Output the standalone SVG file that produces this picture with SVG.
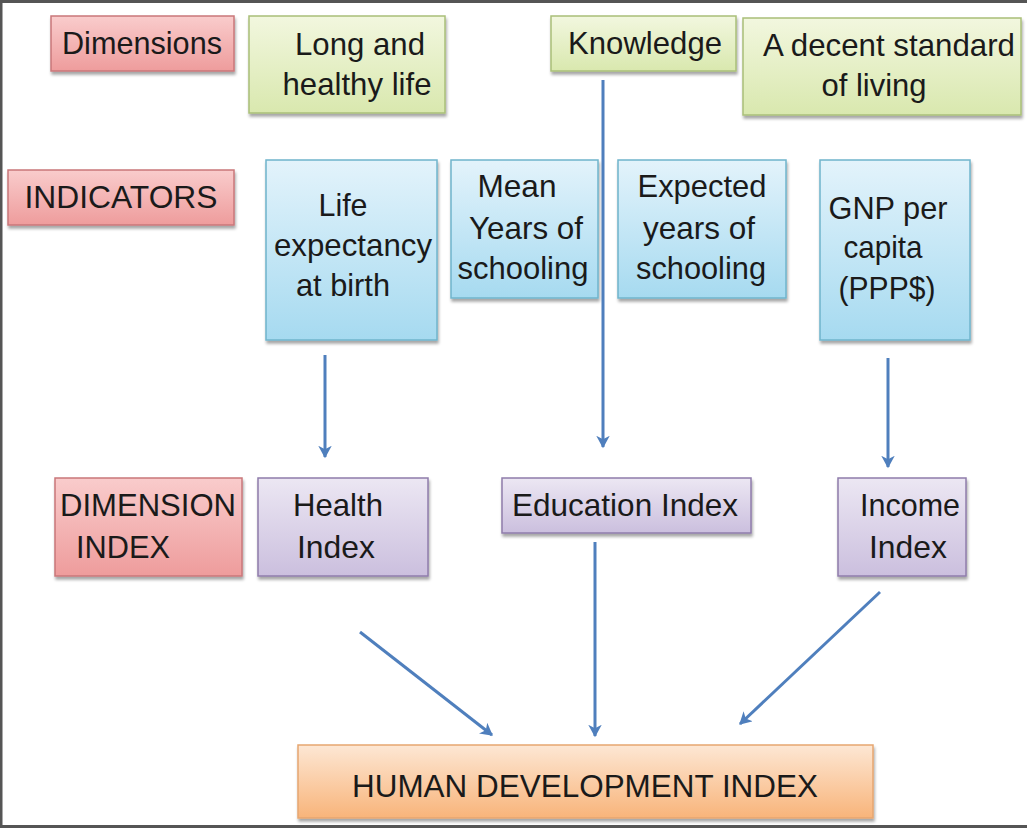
<svg xmlns="http://www.w3.org/2000/svg" width="1027" height="828" viewBox="0 0 1027 828">
<style>
text{font-family:"Liberation Sans",Arial,sans-serif;font-size:32px;fill:#1a1a1a;text-anchor:middle}
.pink{fill:url(#gPink);stroke:#c9777a;stroke-width:1.5}
.green{fill:url(#gGreen);stroke:#a9bf78;stroke-width:1.5}
.blue{fill:url(#gBlue);stroke:#6fb4cc;stroke-width:1.5}
.purple{fill:url(#gPurple);stroke:#8f7cab;stroke-width:1.5}
.orange{fill:url(#gOrange);stroke:#e6a670;stroke-width:1.5}
.box{filter:url(#sh)}
.conn{stroke:#4f7fbd;stroke-width:3;fill:none;marker-end:url(#arr)}
</style>
<defs>
<linearGradient id="gPink" x1="0" y1="0" x2="0" y2="1"><stop offset="0" stop-color="#f9cccc"/><stop offset="1" stop-color="#ee9c9c"/></linearGradient>
<linearGradient id="gGreen" x1="0" y1="0" x2="0" y2="1"><stop offset="0" stop-color="#f2f7df"/><stop offset="1" stop-color="#d9e8ae"/></linearGradient>
<linearGradient id="gBlue" x1="0" y1="0" x2="0" y2="1"><stop offset="0" stop-color="#e3f3fb"/><stop offset="1" stop-color="#a6daf0"/></linearGradient>
<linearGradient id="gPurple" x1="0" y1="0" x2="0" y2="1"><stop offset="0" stop-color="#ece7f3"/><stop offset="1" stop-color="#cbbfde"/></linearGradient>
<linearGradient id="gOrange" x1="0" y1="0" x2="0" y2="1"><stop offset="0" stop-color="#fde7d4"/><stop offset="1" stop-color="#f8b47a"/></linearGradient>
<filter id="sh" x="-10%" y="-10%" width="125%" height="130%"><feDropShadow dx="1" dy="3" stdDeviation="1.5" flood-color="#000" flood-opacity="0.35"/></filter>
<marker id="arr" viewBox="0 0 12 12" refX="10" refY="6" markerWidth="4.5" markerHeight="4.5" orient="auto" markerUnits="strokeWidth"><path d="M0,0 L11,6 L0,12 L3,6 Z" fill="#4f7fbd"/></marker>
</defs>
<rect x="0" y="0" width="1027" height="828" fill="#ffffff"/>
<path d="M1,828 V1.5 H1027" fill="none" stroke="#555" stroke-width="3"/>
<line x1="0" y1="826.5" x2="1027" y2="826.5" stroke="#555" stroke-width="3"/>

<g id="connectors">
<line class="conn" x1="603" y1="80" x2="603" y2="447"/>
<line class="conn" x1="325" y1="355" x2="325" y2="457"/>
<line class="conn" x1="888" y1="358" x2="888" y2="467"/>
<line class="conn" x1="360" y1="632" x2="492" y2="735"/>
<line class="conn" x1="595" y1="542" x2="595" y2="736"/>
<line class="conn" x1="880" y1="592" x2="740" y2="724"/>
</g>

<g id="dimensions">
<rect class="box pink" x="51" y="16" width="183" height="55"/>
<text x="142" y="54" textLength="160" lengthAdjust="spacingAndGlyphs">Dimensions</text>
</g>
<g id="long-healthy-life">
<rect class="box green" x="249" y="16" width="196" height="97"/>
<text x="360" y="55" textLength="130" lengthAdjust="spacingAndGlyphs">Long and</text>
<text x="357" y="95" textLength="149" lengthAdjust="spacingAndGlyphs">healthy life</text>
</g>
<g id="knowledge">
<rect class="box green" x="551" y="16" width="185" height="55"/>
<text x="645" y="54" textLength="154" lengthAdjust="spacingAndGlyphs">Knowledge</text>
</g>
<g id="decent-standard">
<rect class="box green" x="743" y="18" width="278" height="97"/>
<text x="889" y="56" textLength="252" lengthAdjust="spacingAndGlyphs">A decent standard</text>
<text x="874" y="96" textLength="105" lengthAdjust="spacingAndGlyphs">of living</text>
</g>

<g id="indicators">
<rect class="box pink" x="8" y="170" width="226" height="55"/>
<text x="121" y="208" textLength="193" lengthAdjust="spacingAndGlyphs">INDICATORS</text>
</g>
<g id="life-expectancy">
<rect class="box blue" x="266" y="160" width="171" height="180"/>
<text x="343" y="216" textLength="49" lengthAdjust="spacingAndGlyphs">Life</text>
<text x="353" y="256" textLength="158" lengthAdjust="spacingAndGlyphs">expectancy</text>
<text x="343" y="296" textLength="94" lengthAdjust="spacingAndGlyphs">at birth</text>
</g>
<g id="mean-years">
<rect class="box blue" x="451" y="160" width="147" height="138"/>
<text x="517" y="197" textLength="79" lengthAdjust="spacingAndGlyphs">Mean</text>
<text x="526" y="239" textLength="114" lengthAdjust="spacingAndGlyphs">Years of</text>
<text x="523" y="279" textLength="131" lengthAdjust="spacingAndGlyphs">schooling</text>
</g>
<g id="expected-years">
<rect class="box blue" x="618" y="160" width="168" height="138"/>
<text x="702" y="197" textLength="129" lengthAdjust="spacingAndGlyphs">Expected</text>
<text x="699" y="239" textLength="112" lengthAdjust="spacingAndGlyphs">years of</text>
<text x="701" y="279" textLength="130" lengthAdjust="spacingAndGlyphs">schooling</text>
</g>
<g id="gnp">
<rect class="box blue" x="820" y="160" width="150" height="180"/>
<text x="888" y="219" textLength="119" lengthAdjust="spacingAndGlyphs">GNP per</text>
<text x="883" y="258" textLength="79" lengthAdjust="spacingAndGlyphs">capita</text>
<text x="887" y="299" textLength="97" lengthAdjust="spacingAndGlyphs">(PPP$)</text>
</g>

<g id="dimension-index">
<rect class="box pink" x="55" y="478" width="187" height="98"/>
<text x="148" y="516" textLength="176" lengthAdjust="spacingAndGlyphs">DIMENSION</text>
<text x="123" y="558" textLength="94" lengthAdjust="spacingAndGlyphs">INDEX</text>
</g>
<g id="health-index">
<rect class="box purple" x="258" y="478" width="170" height="98"/>
<text x="338" y="516" textLength="90" lengthAdjust="spacingAndGlyphs">Health</text>
<text x="336" y="558" textLength="78" lengthAdjust="spacingAndGlyphs">Index</text>
</g>
<g id="education-index">
<rect class="box purple" x="502" y="478" width="249" height="55"/>
<text x="625" y="516" textLength="226" lengthAdjust="spacingAndGlyphs">Education Index</text>
</g>
<g id="income-index">
<rect class="box purple" x="838" y="478" width="128" height="98"/>
<text x="910" y="516" textLength="100" lengthAdjust="spacingAndGlyphs">Income</text>
<text x="908" y="558" textLength="78" lengthAdjust="spacingAndGlyphs">Index</text>
</g>

<g id="hdi">
<rect class="box orange" x="298" y="745" width="575" height="73"/>
<text x="585" y="797" textLength="466" lengthAdjust="spacingAndGlyphs">HUMAN DEVELOPMENT INDEX</text>
</g>
</svg>
